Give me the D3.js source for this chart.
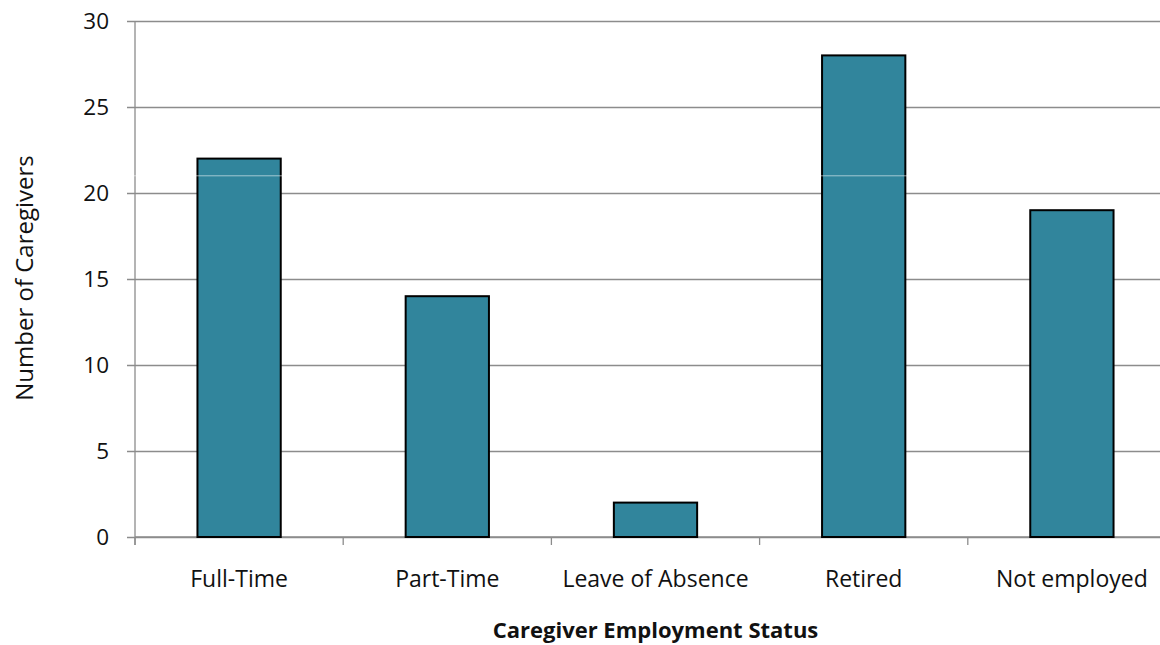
<!DOCTYPE html>
<html>
<head>
<meta charset="utf-8">
<script src="https://cdn.jsdelivr.net/npm/d3@7"></script>
<style>
  html, body { margin: 0; padding: 0; background: #fff; }
  svg { display: block; font-family: "Open Sans", "Noto Sans", sans-serif; }
</style>
</head>
<body>
<svg id="chart" width="1160" height="645"></svg>
<script>
// Employment status of caregivers
const categories = ["Full-Time", "Part-Time", "Leave of Absence", "Retired", "Not employed"];
const counts = [22, 14, 2, 28, 19];
const yTicks = [0, 5, 10, 15, 20, 25, 30];

const svg = d3.select("#chart");
const plotLeft = 135, plotRight = 1176, plotTop = 21, plotBottom = 537;

const x = d3.scaleBand().domain(categories).range([plotLeft, plotRight]).paddingInner(0.6).paddingOuter(0.3);
const y = d3.scaleLinear().domain([0, 30]).range([plotBottom, plotTop]);

// horizontal gridlines with short outside ticks
const yAxis = d3.axisLeft(y).tickValues(yTicks).tickSize(-(plotRight - plotLeft)).tickSizeOuter(0).tickPadding(26);
const gy = svg.append("g").attr("transform", `translate(${plotLeft},0)`).call(yAxis);
gy.select(".domain").remove();
gy.selectAll(".tick line").attr("stroke", "#8c8c8c").attr("stroke-width", 1.3).attr("x1", -8);
gy.selectAll(".tick text").attr("font-size", 22.5).attr("fill", "#111")
  .attr("font-family", "Open Sans, sans-serif");

// vertical axis line
svg.append("line").attr("x1", plotLeft).attr("x2", plotLeft).attr("y1", plotTop).attr("y2", plotBottom + 8)
  .attr("stroke", "#8c8c8c").attr("stroke-width", 1.3);

// category boundary ticks along the baseline
const step = x.step();
const boundaries = d3.range(categories.length + 1).map(i => plotLeft + i * step);
svg.append("g").selectAll("line").data(boundaries).join("line")
  .attr("x1", d => d).attr("x2", d => d).attr("y1", plotBottom).attr("y2", plotBottom + 8)
  .attr("stroke", "#8c8c8c").attr("stroke-width", 1.3);
svg.append("line").attr("x1", plotLeft).attr("x2", plotRight).attr("y1", plotBottom).attr("y2", plotBottom)
  .attr("stroke", "#8c8c8c").attr("stroke-width", 1.3);

// bars
svg.append("g").selectAll("rect").data(categories).join("rect")
  .attr("x", d => x(d))
  .attr("y", (d, i) => y(counts[i]))
  .attr("width", x.bandwidth())
  .attr("height", (d, i) => y(0) - y(counts[i]))
  .attr("fill", "#31859c")
  .attr("stroke", "#000")
  .attr("stroke-width", 2);

// faint light seam across the plot at 21
svg.append("line").attr("x1", plotLeft - 1).attr("x2", plotRight).attr("y1", y(21)).attr("y2", y(21))
  .attr("stroke", "rgba(255,255,255,0.55)").attr("stroke-width", 1);

// category labels
svg.append("g").selectAll("text").data(categories).join("text")
  .attr("x", d => x(d) + x.bandwidth() / 2)
  .attr("y", 587)
  .attr("text-anchor", "middle")
  .attr("font-size", 23)
  .attr("fill", "#111")
  .text(d => d);

// axis titles
svg.append("text")
  .attr("x", (plotLeft + plotRight) / 2).attr("y", 638)
  .attr("text-anchor", "middle")
  .attr("font-size", 22).attr("font-weight", "bold").attr("fill", "#111")
  .text("Caregiver Employment Status");

svg.append("text")
  .attr("transform", "translate(33,278) rotate(-90)")
  .attr("text-anchor", "middle")
  .attr("font-size", 24).attr("fill", "#111")
  .text("Number of Caregivers");
</script>
</body>
</html>
